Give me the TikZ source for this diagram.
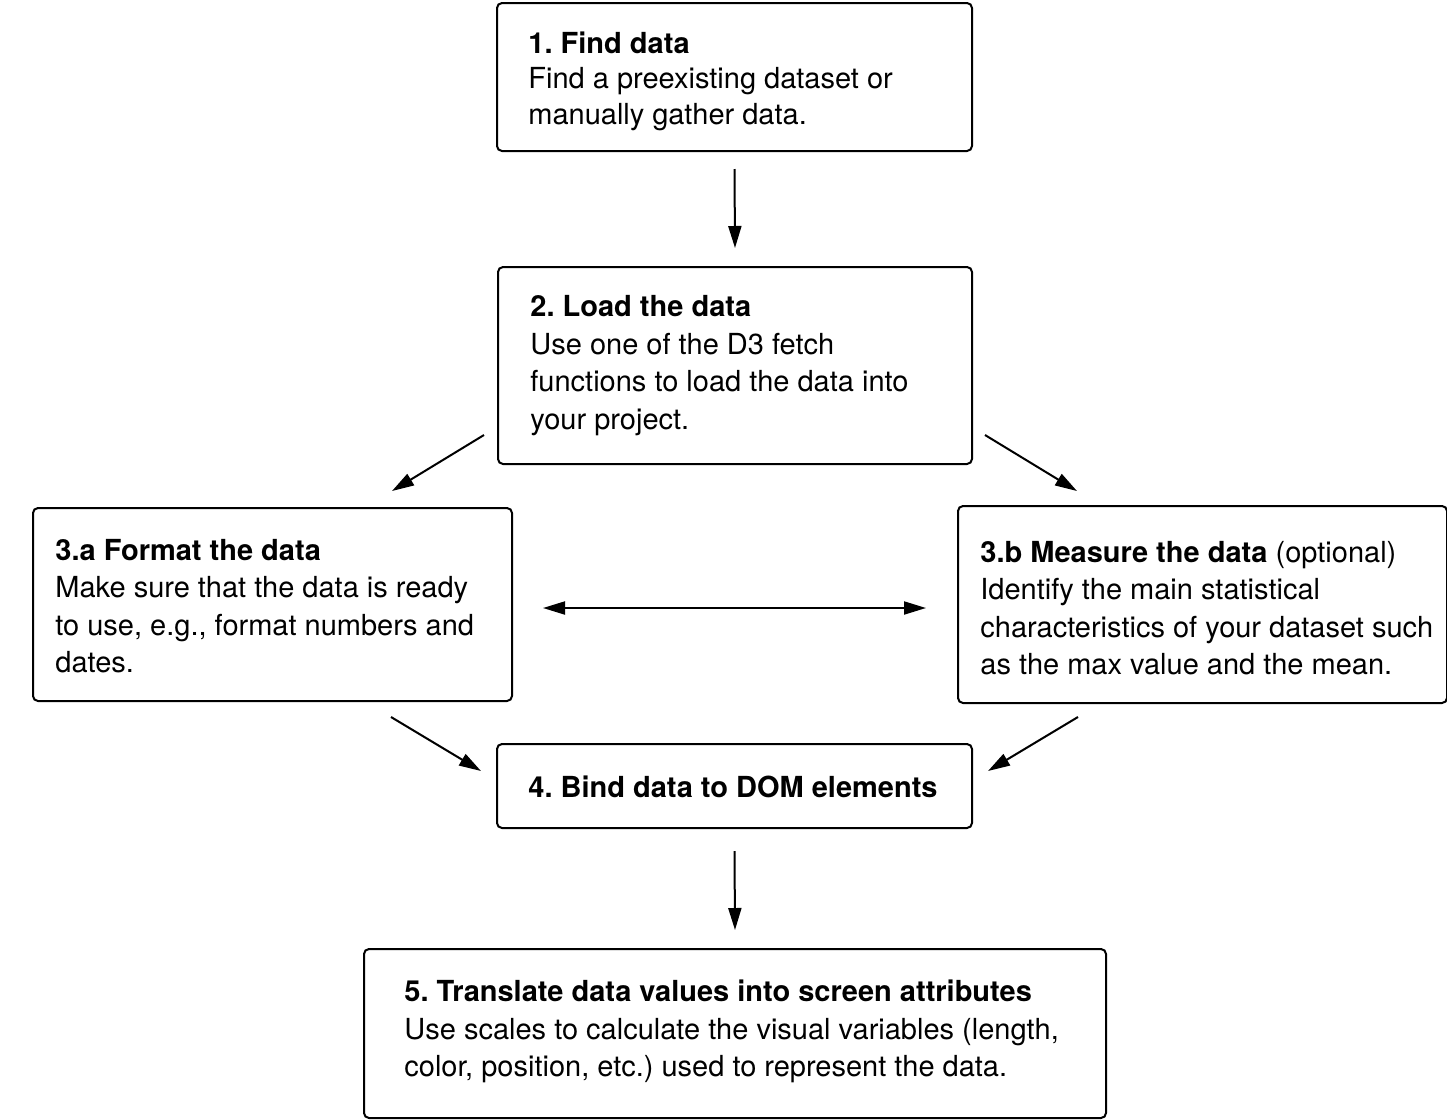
\documentclass[tikz,border=0pt]{standalone}
\usepackage{fontspec}
\setmainfont{TeX Gyre Heros}
\usetikzlibrary{arrows.meta}
\tikzset{
  stepbox/.style={draw, line width=1pt, rounded corners=2.5pt, inner sep=0pt, anchor=north west},
  steptext/.style={align=left, inner sep=0pt, anchor=west,
    font=\fontsize{14.5pt}{18.7pt}\selectfont\frenchspacing},
  flow/.style={-{Triangle[length=11pt,width=6.5pt]}, line width=1pt},
  bothflow/.style={{Triangle[length=11pt,width=6.5pt]}-{Triangle[length=11pt,width=6.5pt]}, line width=1pt}
}
\begin{document}
\begin{tikzpicture}[x=0.5pt,y=-0.5pt]
  \useasboundingbox (0,0) rectangle (1447,1120);
  % boxes
  \node[stepbox, minimum width=237.5pt, minimum height=74pt] (find) at (496,2) {};
  \node[stepbox, minimum width=237pt, minimum height=98.5pt] (load) at (497,266) {};
  \node[stepbox, minimum width=239.5pt, minimum height=96.5pt] (format) at (32,507) {};
  \node[stepbox, minimum width=244.5pt, minimum height=98.5pt] (measure) at (957,505) {};
  \node[stepbox, minimum width=237.5pt, minimum height=42pt] (bind) at (496,743) {};
  \node[stepbox, minimum width=371pt, minimum height=84.5pt] (translate) at (363,948) {};
  % texts
  \node[steptext, font=\fontsize{14.5pt}{17.8pt}\selectfont\frenchspacing] (findtext) at ([xshift=16pt,yshift=-2pt]find.west)
    {\textbf{1. Find data}\\Find a preexisting dataset or\\manually gather data.};
  \node[steptext] (loadtext) at ([xshift=16.5pt]load.west)
    {\textbf{2. Load the data}\\Use one of the D3 fetch\\functions to load the data into\\your project.};
  \node[steptext] (formattext) at ([xshift=11.5pt,yshift=-0.75pt]format.west)
    {\textbf{3.a Format the data}\\Make sure that the data is ready\\to use, e.g., format numbers and\\dates.};
  \node[steptext] (measuretext) at ([xshift=11.5pt,yshift=-1.75pt]measure.west)
    {\textbf{3.b Measure the data} (optional)\\Identify the main statistical\\characteristics of your dataset such\\as the max value and the mean.};
  \node[steptext] (bindtext) at ([xshift=16pt,yshift=-0.5pt]bind.west)
    {\textbf{4. Bind data to DOM elements}};
  \node[steptext] (translatetext) at ([xshift=20.5pt,yshift=1pt]translate.west)
    {\textbf{5. Translate data values into screen attributes}\\Use scales to calculate the visual variables (length,\\color, position, etc.) used to represent the data.};
  % arrows
  \draw[flow] ([yshift=-8.5pt]find.south) -- ([yshift=9pt]load.north);
  \draw[flow] ([xshift=-6.5pt,yshift=15pt]load.south west) -- ([xshift=-60.5pt,yshift=8pt]format.north east);
  \draw[flow] ([xshift=6pt,yshift=15pt]load.south east) -- ([xshift=60pt,yshift=7pt]measure.north west);
  \draw[bothflow] ([xshift=15pt,yshift=-1.75pt]format.east) -- ([xshift=-15.5pt,yshift=-1.75pt]measure.west);
  \draw[flow] ([xshift=-61pt,yshift=-7.5pt]format.south east) -- ([xshift=-7.5pt,yshift=-14pt]bind.north west);
  \draw[flow] ([xshift=60.5pt,yshift=-6.5pt]measure.south west) -- ([xshift=7.5pt,yshift=-14pt]bind.north east);
  \draw[flow] ([yshift=-11pt]bind.south) -- ([yshift=9pt]translate.north);
\end{tikzpicture}
\end{document}
